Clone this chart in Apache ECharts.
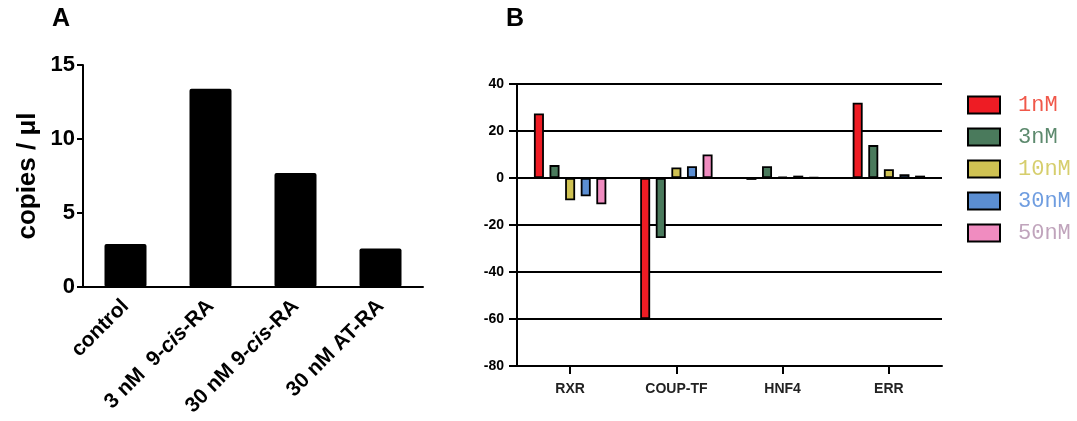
<!DOCTYPE html>
<html><head><meta charset="utf-8">
<script src="https://cdn.jsdelivr.net/npm/echarts@6/dist/echarts.min.js"></script>
<style>html,body{margin:0;padding:0;background:#fff}#c{width:1077px;height:421px}</style>
</head><body><div id="c"></div>
<script>
const catsA = ['control', '3 nM  9-cis-RA', '30 nM 9-cis-RA', '30 nM AT-RA'];
const valsA = [2.9, 13.4, 7.7, 2.6];
const ticksA = [0, 5, 10, 15];

const catsB = ['RXR', 'COUP-TF', 'HNF4', 'ERR'];
const namesB = ['1nM', '3nM', '10nM', '30nM', '50nM'];
const s1nM = [27.5, -60, -0.8, 32];
const s3nM = [5.5, -25.5, 5, 14];
const s10nM = [-9.5, 4.5, 0.5, 3.7];
const s30nM = [-7.8, 5, 1, 1.6];
const s50nM = [-11.2, 10, 0.3, 1];
const ticksB = [-80, -60, -40, -20, 0, 20, 40];

const barColors = ['#ee1c24', '#4a7a5c', '#cfc253', '#5b8ed2', '#f08cc0'];
const textColors = ['#f0584a', '#5d8a6e', '#d6ce6c', '#6f9de0', '#c0a4bc'];
const seriesB = [s1nM, s3nM, s10nM, s30nM, s50nM];

const chart = echarts.init(document.getElementById('c'));
const AF = 'Arial, "Liberation Sans", Helvetica, sans-serif';

function fmtA(v) {
  return v.replace('cis', '{i|cis}');
}

chart.setOption({
  animation: false,
  title: [
    {text: 'A', left: 47, top: 2, textStyle: {fontFamily: AF, fontWeight: 'bold', fontSize: 25, color: '#000'}},
    {text: 'B', left: 501, top: 2, textStyle: {fontFamily: AF, fontWeight: 'bold', fontSize: 25, color: '#000'}}
  ],
  grid: [
    {left: 83, top: 65, width: 340, height: 222},
    {left: 517, top: 84, width: 425, height: 282}
  ],
  legend: {
    data: namesB.map((n, i) => ({name: n, textStyle: {color: textColors[i]}})),
    orient: 'vertical', left: 962, top: 89,
    itemWidth: 32, itemHeight: 17, itemGap: 10,
    icon: 'rect',
    itemStyle: {borderColor: '#000', borderWidth: 2},
    textStyle: {fontFamily: '"Courier New", "Liberation Mono", monospace', fontSize: 22, padding: [0, 0, 0, 13]}
  },
  xAxis: [
    {
      gridIndex: 0, type: 'category', data: catsA,
      axisLine: {lineStyle: {color: '#000', width: 2}},
      axisTick: {show: false},
      axisLabel: {
        interval: 0, rotate: 45, margin: 16, color: '#000',
        fontFamily: AF, fontWeight: 'bold', fontSize: 21,
        formatter: fmtA,
        rich: {i: {fontStyle: 'italic', fontWeight: 'bold', fontFamily: AF, fontSize: 21, color: '#000'}}
      }
    },
    {
      gridIndex: 1, type: 'category', data: catsB,
      axisLine: {onZero: false, lineStyle: {color: '#000', width: 2}},
      axisTick: {show: true, alignWithLabel: true, length: 8, lineStyle: {color: '#000', width: 2}},
      axisLabel: {margin: 16, color: '#222', fontFamily: AF, fontWeight: 'bold', fontSize: 14}
    }
  ],
  yAxis: [
    {
      gridIndex: 0, type: 'value', min: 0, max: 15, interval: 5,
      name: 'copies / \u03bcl', nameLocation: 'middle', nameGap: 42,
      nameTextStyle: {fontFamily: AF, fontWeight: 'bold', fontSize: 26, color: '#000'},
      axisLine: {show: true, lineStyle: {color: '#000', width: 2}},
      axisTick: {show: true, length: 6, lineStyle: {color: '#000', width: 2}},
      splitLine: {show: false},
      axisLabel: {margin: 8, color: '#000', fontFamily: AF, fontWeight: 'bold', fontSize: 22}
    },
    {
      gridIndex: 1, type: 'value', min: -80, max: 40, interval: 20,
      axisLine: {show: true, lineStyle: {color: '#000', width: 2}},
      axisTick: {show: true, length: 8, lineStyle: {color: '#000', width: 2}},
      splitLine: {show: true, lineStyle: {color: '#000', width: 2}},
      axisLabel: {margin: 13, color: '#000', fontFamily: AF, fontWeight: 'bold', fontSize: 14}
    }
  ],
  series: [
    {
      type: 'bar', xAxisIndex: 0, yAxisIndex: 0, data: valsA, barWidth: 42,
      itemStyle: {color: '#000', borderRadius: 2}
    }
  ].concat(namesB.map((n, i) => ({
    name: n, type: 'bar', xAxisIndex: 1, yAxisIndex: 1, data: seriesB[i],
    barWidth: 10, barGap: '56%',
    itemStyle: {color: barColors[i], borderColor: '#000', borderWidth: 1.8}
  })))
});
</script>
</body></html>
